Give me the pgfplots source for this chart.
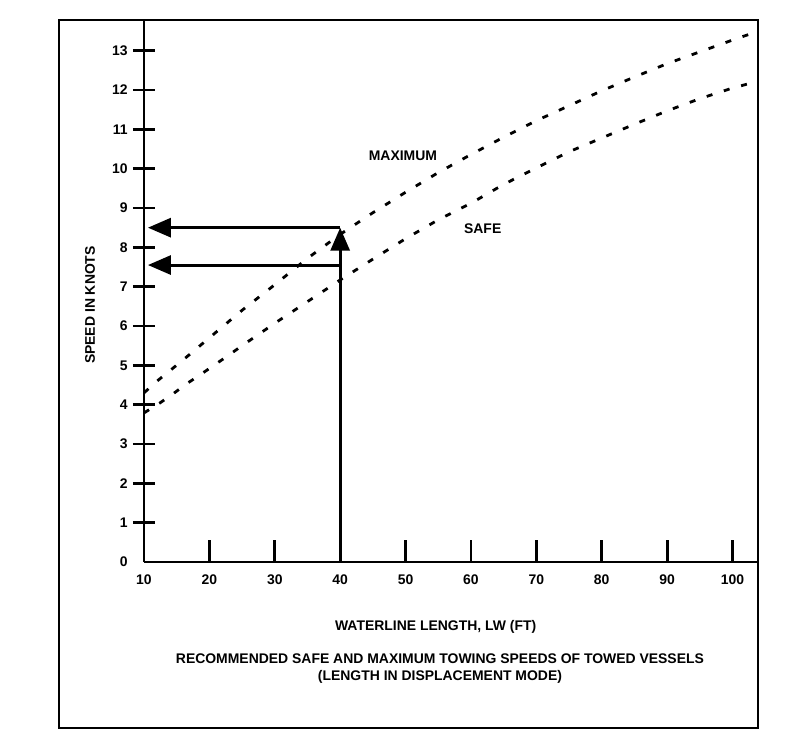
\documentclass[border=0pt]{standalone}
\usepackage{fontspec}
\setmainfont{Liberation Sans}
\usepackage{pgfplots}
\pgfplotsset{compat=1.18}
\usetikzlibrary{arrows.meta}

\pgfplotstableread{
x     y
10    4.30
12    4.60
14    4.87
16    5.14
18    5.42
20    5.70
25    6.40
30    7.05
35    7.72
40    8.33
45    8.88
50    9.40
55    9.90
60    10.36
65    10.80
70    11.22
75    11.60
80    11.98
85    12.33
90    12.67
95    12.97
100   13.27
103.5 13.47
}\maxspeed

\pgfplotstableread{
x     y
10    3.79
12.4  4.04
14.4  4.27
16.5  4.53
18.6  4.76
20.6  4.99
22.8  5.24
25    5.50
30    6.07
35    6.62
40    7.17
45    7.70
50    8.22
55    8.70
60    9.12
65    9.60
70    10.02
75    10.43
80    10.78
85    11.13
90    11.47
95    11.78
100   12.05
103.6 12.21
}\safespeed

\begin{document}
\begin{tikzpicture}[font=\bfseries\fontsize{7}{8.5}\selectfont]
\begin{axis}[
  scale only axis,
  width=307bp, height=271bp,
  xmin=10, xmax=103.9,
  ymin=0, ymax=13.78,
  axis lines=left,
  axis line style={-, line width=1.4bp},
  tick align=inside,
  major tick length=11bp,
  xtick={10,20,...,100},
  ytick={1,...,13},
  extra y ticks={0},
  extra y tick style={major tick length=0pt},
  x tick style={line width=1.4bp, black},
  y tick style={line width=1.4bp, black, xshift=-5.5bp},
  /pgf/number format/assume math mode=true,
  ticklabel style={font=\bfseries\fontsize{7}{8.5}\selectfont},
  yticklabel style={xshift=-4.7bp},
  xticklabel style={yshift=-2.7bp},
  xlabel={WATERLINE LENGTH, LW (FT)},
  xlabel style={at={(axis description cs:0.475,-0.12)}, anchor=center},
  ylabel={SPEED IN KNOTS},
  ylabel style={at={(axis description cs:-0.088,0.474)}, anchor=center, rotate=0},
  clip=false,
]
\addplot[black, line width=1.4bp, dash pattern=on 3bp off 6bp] table[x=x,y=y] {\maxspeed};
\addplot[black, line width=1.4bp, dash pattern=on 3bp off 6bp] table[x=x,y=y] {\safespeed};

\draw[line width=1.5bp, -{Triangle[length=11.5bp,width=9.5bp]}] (axis cs:40,0) -- (axis cs:40,8.5);
\draw[line width=1.5bp, -{Triangle[length=11.5bp,width=9.5bp]}] (axis cs:40,8.5) -- (axis cs:10.6,8.5);
\draw[line width=1.5bp, -{Triangle[length=11.5bp,width=9.5bp]}] (axis cs:40,7.55) -- (axis cs:10.6,7.55);

\node at (axis cs:49.6,10.32) {MAXIMUM};
\node at (axis cs:61.8,8.47) {SAFE};

\node[align=center] at (axis description cs:0.482,-0.196) {RECOMMENDED SAFE AND MAXIMUM TOWING SPEEDS OF TOWED VESSELS\\(LENGTH IN DISPLACEMENT MODE)};

\coordinate (O) at (rel axis cs:0,0);
\coordinate (TR) at (rel axis cs:1,1);
\end{axis}
\draw[line width=1.4bp] ([xshift=-42.5bp,yshift=-83bp]O) rectangle (TR);
\path ([xshift=-72bp,yshift=-87.5bp]O) rectangle ([xshift=15.5bp,yshift=10bp]TR);
\end{tikzpicture}
\end{document}
